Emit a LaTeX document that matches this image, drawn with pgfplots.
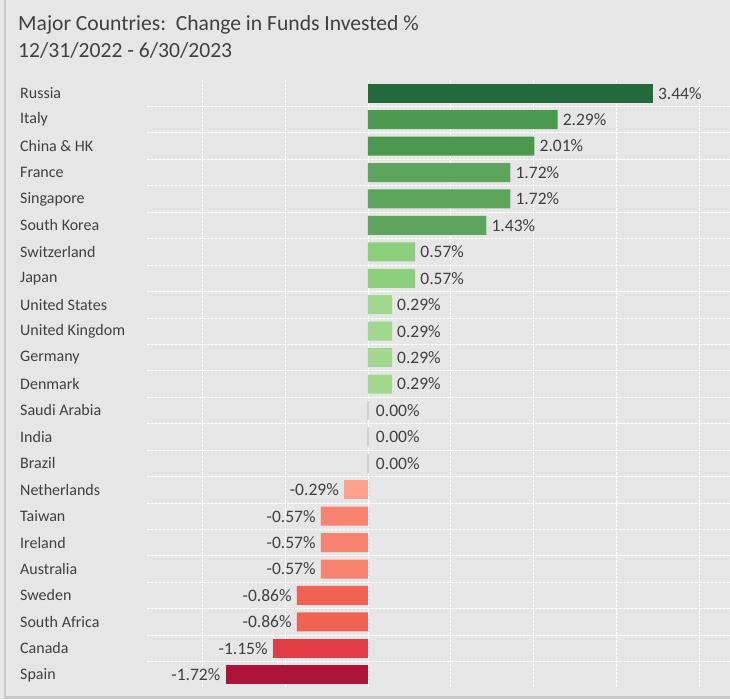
\documentclass[border=0pt]{standalone}
\usepackage{fontspec}
\setmainfont{Carlito}
\usepackage{pgfplots}
\pgfplotsset{compat=1.18}
\definecolor{bg}{HTML}{E6E6E6}
\definecolor{border}{HTML}{C8C8C8}
\definecolor{txt}{HTML}{404040}
\definecolor{g1}{HTML}{236A3D}
\definecolor{g2}{HTML}{4B984F}
\definecolor{g3}{HTML}{5DA55B}
\definecolor{g4}{HTML}{8BCF7C}
\definecolor{g5}{HTML}{A0D98F}
\definecolor{z0}{HTML}{CBD5C5}
\definecolor{r1}{HTML}{FCA08B}
\definecolor{r2}{HTML}{F7826D}
\definecolor{r3}{HTML}{F26252}
\definecolor{r4}{HTML}{E23D44}
\definecolor{r5}{HTML}{AD1238}
\pgfplotsset{
  posbar/.style={draw=none, every node near coord/.append style={anchor=west}},
  negbar/.style={draw=none, every node near coord/.append style={anchor=east}},
}
\begin{document}
\begin{tikzpicture}[x=1pt,y=1pt]
\fill[bg] (0,0) rectangle (730,699);
\fill[border] (3.5,0) rectangle (6,699);
\fill[border] (3.5,0) rectangle (730,3);
\node[anchor=base west, inner sep=0pt, font=\fontsize{21.6}{26}\selectfont, text=txt] at (18,668) {Major Countries:\ \ Change in Funds Invested \%};
\node[anchor=base west, inner sep=0pt, font=\fontsize{21.6}{26}\selectfont, text=txt] at (18,641) {12/31/2022 - 6/30/2023};
\begin{axis}[
  at={(147pt,11pt)}, anchor=south west,
  width=583pt, height=608pt, scale only axis,
  xmin=-2.669, xmax=4.372, ymin=-0.5, ymax=22.5,
  y dir=reverse,
  axis line style={draw=none},
  major tick length=0pt, minor tick length=0pt,
  tick style={draw=none},
  xtick={-2,-1,0,1,2,3,4}, xticklabels={},
  xmajorgrids,
  ytick={0,...,22},
  minor ytick={0.5,1.5,...,21.5},
  yminorgrids,
  ymajorgrids=false,
  grid style={white, dash pattern=on 2.5pt off 1.5pt, line width=0.8pt},
  minor grid style={white, dash pattern=on 2.5pt off 1.5pt, line width=0.8pt},
  yticklabels={Russia,Italy,China \& HK,France,Singapore,South Korea,Switzerland,Japan,United States,United Kingdom,Germany,Denmark,Saudi Arabia,India,Brazil,Netherlands,Taiwan,Ireland,Australia,Sweden,South Africa,Canada,Spain},
  yticklabel style={anchor=west, inner sep=0pt, xshift=-127pt, font=\fontsize{16}{19}\selectfont, text=txt},
  xbar, bar width=19pt, bar shift=0pt,
  point meta=explicit symbolic,
  nodes near coords={\pgfplotspointmeta\%},
  every node near coord/.append style={font=\fontsize{17.5}{20}\selectfont, text=txt, inner xsep=5pt},
]
\addplot[posbar, fill=g1] coordinates {(3.44,0) [3.44]};
\addplot[posbar, fill=g2] coordinates {(2.29,1) [2.29] (2.01,2) [2.01]};
\addplot[posbar, fill=g3] coordinates {(1.72,3) [1.72] (1.72,4) [1.72] (1.43,5) [1.43]};
\addplot[posbar, fill=g4] coordinates {(0.57,6) [0.57] (0.57,7) [0.57]};
\addplot[posbar, fill=g5] coordinates {(0.29,8) [0.29] (0.29,9) [0.29] (0.29,10) [0.29] (0.29,11) [0.29]};
\addplot[draw=z0, fill=z0, line width=2pt, every node near coord/.append style={anchor=west, xshift=2pt}] coordinates {(0,12) [0.00] (0,13) [0.00] (0,14) [0.00]};
\addplot[negbar, fill=r1] coordinates {(-0.29,15) [-0.29]};
\addplot[negbar, fill=r2] coordinates {(-0.57,16) [-0.57] (-0.57,17) [-0.57] (-0.57,18) [-0.57]};
\addplot[negbar, fill=r3] coordinates {(-0.86,19) [-0.86] (-0.86,20) [-0.86]};
\addplot[negbar, fill=r4] coordinates {(-1.15,21) [-1.15]};
\addplot[negbar, fill=r5] coordinates {(-1.72,22) [-1.72]};
\end{axis}
\pgfresetboundingbox
\useasboundingbox (0,0) rectangle (730,699);
\end{tikzpicture}
\end{document}
